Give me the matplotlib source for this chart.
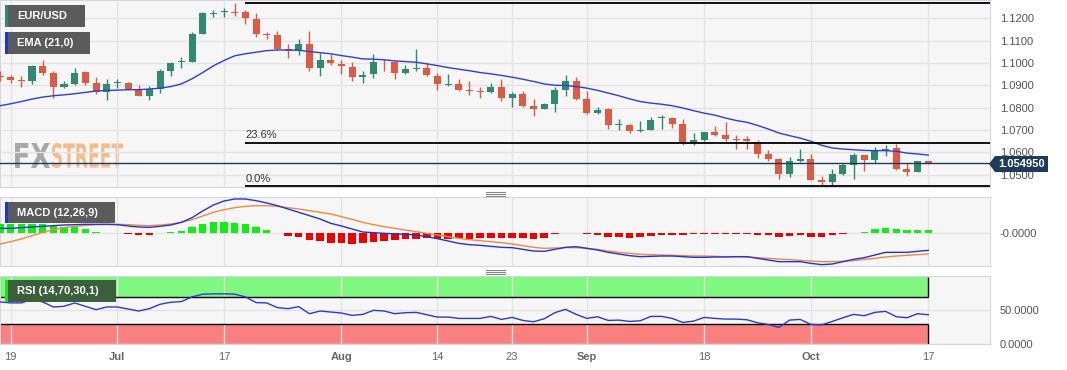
#Imports
import numpy as np
import pandas as pd
import matplotlib
matplotlib.use('Agg')
import matplotlib.pyplot as plt
from matplotlib.patches import Rectangle, Polygon, PathPatch
from matplotlib.textpath import TextPath
from matplotlib.font_manager import FontProperties
from matplotlib.transforms import Affine2D

plt.rcParams['font.family'] = ['Liberation Sans', 'DejaVu Sans']

#-------------------Data-------------------#
dates = pd.bdate_range('2023-06-16', '2023-10-17')

opens = [1.0942, 1.0939, 1.0923, 1.0917, 1.0984, 1.0954, 1.0894, 1.0906, 1.0959, 1.0912,
         1.0869, 1.0911, 1.0909, 1.0883, 1.0854, 1.0883, 1.0966, 1.1002, 1.1006, 1.1130,
         1.1219, 1.1227, 1.1230, 1.1227, 1.1197, 1.1130, 1.1123, 1.1063, 1.1055, 1.1084,
         1.0979, 1.1014, 1.0996, 1.0981, 1.0939, 1.0950, 1.1006, 1.1002, 1.0957, 1.0973,
         1.0976, 1.0942, 1.0900, 1.0905, 1.0880, 1.0872, 1.0871, 1.0891, 1.0845, 1.0860,
         1.0808, 1.0795, 1.0817, 1.0880, 1.0920, 1.0839, 1.0774, 1.0793, 1.0720, 1.0723,
         1.0693, 1.0701, 1.0753, 1.0753, 1.0726, 1.0641, 1.0653, 1.0689, 1.0675, 1.0660,
         1.0659, 1.0646, 1.0590, 1.0570, 1.0503, 1.0562, 1.0570, 1.0474, 1.0465, 1.0503,
         1.0544, 1.0586, 1.0567, 1.0607, 1.0619, 1.0526, 1.0510, 1.0559]
highs = [1.0962, 1.0947, 1.0942, 1.0991, 1.1011, 1.0962, 1.0920, 1.0976, 1.0966, 1.0939,
         1.0930, 1.0930, 1.0914, 1.0902, 1.0897, 1.0973, 1.1002, 1.1026, 1.1137, 1.1227,
         1.1237, 1.1245, 1.1270, 1.1237, 1.1225, 1.1140, 1.1145, 1.1084, 1.1106, 1.1145,
         1.1044, 1.1039, 1.1014, 1.1002, 1.0962, 1.1039, 1.1017, 1.1009, 1.0991, 1.1061,
         1.0999, 1.0957, 1.0951, 1.0929, 1.0920, 1.0890, 1.0912, 1.0927, 1.0869, 1.0872,
         1.0838, 1.0820, 1.0891, 1.0947, 1.0935, 1.0875, 1.0802, 1.0798, 1.0748, 1.0728,
         1.0742, 1.0757, 1.0768, 1.0757, 1.0748, 1.0686, 1.0692, 1.0716, 1.0734, 1.0678,
         1.0671, 1.0653, 1.0608, 1.0574, 1.0579, 1.0614, 1.0592, 1.0492, 1.0525, 1.0552,
         1.0596, 1.0589, 1.0622, 1.0634, 1.0638, 1.0552, 1.0559, 1.0561]
lows = [1.0917, 1.0909, 1.0891, 1.0906, 1.0947, 1.0842, 1.0887, 1.0902, 1.0902, 1.0860,
        1.0835, 1.0887, 1.0877, 1.0854, 1.0835, 1.0865, 1.0942, 1.0976, 1.1003, 1.1130,
        1.1204, 1.1207, 1.1212, 1.1175, 1.1115, 1.1108, 1.1058, 1.1021, 1.1036, 1.0966,
        1.0942, 1.0991, 1.0951, 1.0921, 1.0912, 1.0932, 1.0965, 1.0929, 1.0951, 1.0966,
        1.0942, 1.0877, 1.0897, 1.0872, 1.0857, 1.0845, 1.0865, 1.0830, 1.0802, 1.0802,
        1.0760, 1.0793, 1.0780, 1.0853, 1.0832, 1.0771, 1.0771, 1.0705, 1.0701, 1.0686,
        1.0690, 1.0698, 1.0704, 1.0708, 1.0631, 1.0631, 1.0652, 1.0671, 1.0649, 1.0614,
        1.0614, 1.0574, 1.0559, 1.0482, 1.0489, 1.0556, 1.0474, 1.0447, 1.0450, 1.0500,
        1.0480, 1.0514, 1.0552, 1.0581, 1.0522, 1.0492, 1.0510, 1.0547]
closes = [1.0935, 1.0924, 1.0920, 1.0984, 1.0957, 1.0891, 1.0905, 1.0957, 1.0912, 1.0869,
          1.0906, 1.0914, 1.0880, 1.0854, 1.0883, 1.0966, 1.0999, 1.1009, 1.1130, 1.1225,
          1.1225, 1.1230, 1.1222, 1.1200, 1.1128, 1.1124, 1.1063, 1.1055, 1.1084, 1.0976,
          1.1014, 1.0999, 1.0984, 1.0939, 1.0947, 1.1006, 1.1002, 1.0957, 1.0972, 1.0979,
          1.0947, 1.0906, 1.0905, 1.0880, 1.0875, 1.0868, 1.0891, 1.0845, 1.0860, 1.0808,
          1.0795, 1.0815, 1.0877, 1.0920, 1.0839, 1.0774, 1.0790, 1.0720, 1.0726, 1.0693,
          1.0698, 1.0745, 1.0757, 1.0728, 1.0641, 1.0653, 1.0689, 1.0678, 1.0660, 1.0653,
          1.0649, 1.0593, 1.0571, 1.0503, 1.0562, 1.0570, 1.0477, 1.0465, 1.0503, 1.0544,
          1.0586, 1.0564, 1.0607, 1.0616, 1.0526, 1.0510, 1.0559, 1.05495]

ema21 = [1.0808, 1.0817, 1.0827, 1.0838, 1.0847, 1.0853, 1.0857, 1.0862, 1.0868, 1.0874,
         1.0877, 1.0878, 1.0880, 1.0880, 1.0883, 1.0887, 1.0894, 1.0906, 1.0929, 1.0957,
         1.0987, 1.1011, 1.1032, 1.1041, 1.1048, 1.1055, 1.1058, 1.1058, 1.1057, 1.1051,
         1.1046, 1.1041, 1.1033, 1.1026, 1.1018, 1.1017, 1.1014, 1.1009, 1.1006, 1.1003,
         1.0996, 1.0988, 1.0979, 1.0972, 1.0965, 1.0957, 1.0951, 1.0944, 1.0936, 1.0927,
         1.0917, 1.0906, 1.0900, 1.0899, 1.0894, 1.0887, 1.0877, 1.0865, 1.0853, 1.0839,
         1.0827, 1.0820, 1.0815, 1.0808, 1.0798, 1.0786, 1.0775, 1.0766, 1.0753, 1.0742,
         1.0734, 1.0720, 1.0704, 1.0686, 1.0674, 1.0663, 1.0649, 1.0631, 1.0619, 1.0614,
         1.0611, 1.0608, 1.0607, 1.0607, 1.0604, 1.0596, 1.0592, 1.0587]

#MACD values in units of 1e-4
macd_line = [10.5, 10.5, 11.9, 13.3, 14.7, 16.1, 17.5, 18.2, 18.9, 18.9,
             18.9, 18.2, 15.4, 13.3, 12.6, 14.7, 17.5, 23.1, 32.9, 46.9,
             59.5, 67.9, 72.1, 72.1, 68.6, 63.7, 58.1, 51.1, 44.1, 37.1,
             30.1, 21.0, 15.4, 9.1, 2.8, 1.4, 0.0, -1.4, -2.1, -3.5,
             -7.0, -11.2, -16.1, -21.0, -23.8, -25.2, -27.3, -29.4, -30.1, -33.6,
             -37.1, -37.8, -33.6, -29.4, -28.0, -31.5, -35.0, -39.9, -43.4, -46.9,
             -49.0, -48.3, -47.6, -47.6, -49.0, -50.4, -50.4, -49.7, -49.7, -49.0,
             -49.0, -52.5, -56.0, -59.5, -59.5, -59.5, -63.0, -65.8, -64.4, -59.5,
             -54.6, -51.1, -45.5, -39.9, -39.9, -39.9, -37.8, -35.7]
signal_line = [-22.4, -17.5, -11.9, -4.9, 2.1, 7.7, 11.9, 14.7, 16.8, 18.2,
               18.9, 18.9, 18.2, 16.8, 16.1, 17.5, 19.6, 23.1, 28.7, 36.4,
               44.1, 49.7, 53.9, 56.7, 58.1, 58.1, 56.7, 53.9, 51.1, 47.6,
               44.1, 40.6, 35.0, 29.4, 23.1, 18.2, 14.0, 10.5, 7.0, 3.5,
               0.0, -3.5, -7.0, -10.5, -13.3, -15.4, -17.5, -19.6, -22.4, -25.9,
               -29.4, -31.5, -30.8, -30.1, -30.1, -31.5, -33.6, -37.1, -39.9, -42.0,
               -44.1, -44.8, -45.5, -46.2, -46.9, -47.6, -47.6, -48.3, -49.0, -49.0,
               -49.7, -51.1, -52.5, -53.9, -55.3, -56.7, -58.1, -59.5, -59.5, -58.8,
               -57.4, -54.6, -52.5, -49.7, -47.6, -46.2, -44.8, -43.4]
macd_hist = [19.6, 19.6, 19.6, 19.6, 19.6, 16.1, 12.6, 12.6, 8.4, 2.1,
             1.4, 0.7, -0.7, -3.5, -3.5, 0.3, 2.1, 4.9, 12.6, 19.6,
             24.5, 24.5, 21.0, 18.9, 12.6, 6.3, 0.7, -4.9, -7.0, -14.0,
             -16.8, -19.6, -21.0, -22.4, -21.0, -17.5, -15.4, -14.0, -12.6, -11.2,
             -10.5, -11.2, -11.2, -10.5, -11.2, -10.5, -10.5, -9.8, -10.5, -10.5,
             -11.2, -9.1, -2.1, 0.7, 0.7, -2.1, -4.2, -7.7, -8.4, -10.5,
             -7.0, -4.9, -2.8, -2.8, -3.5, -2.1, -2.1, -0.7, -0.7, -0.7,
             -2.1, -2.8, -3.5, -8.4, -5.6, -4.2, -7.0, -8.4, -4.2, -2.1,
             0.7, 2.8, 8.4, 11.9, 9.1, 6.3, 6.3, 6.3]

rsi = [62.5, 61, 61, 66, 62.5, 55, 56, 61, 56, 51,
       55, 55, 52, 49, 52.5, 59, 62, 63, 70, 74,
       74.5, 74.5, 74, 70, 61.5, 61, 54, 52.5, 55.5, 45,
       49, 47.5, 46, 42.5, 44, 50, 49, 45, 46.5, 47,
       43.5, 40, 40, 38, 38, 38, 41, 36.5, 39.5, 35,
       33, 37.5, 46.5, 51.5, 44, 38, 40.5, 35, 35.5, 33.5,
       34.5, 41, 41, 38, 32, 34, 39.5, 38, 37, 37,
       36, 31.5, 29, 24.5, 35.5, 36.5, 29, 28.5, 33.5, 39,
       44, 42, 47, 48.5, 40.5, 39, 45, 43.5]

tick_dates = ['2023-06-19', '2023-07-03', '2023-07-17', '2023-08-01', '2023-08-14',
              '2023-08-23', '2023-09-01', '2023-09-18', '2023-10-02', '2023-10-17']
tick_labels = ['19', 'Jul', '17', 'Aug', '14', '23', 'Sep', '18', 'Oct', '17']
month_labels = ['Jul', 'Aug', 'Sep', 'Oct']
price_ticks = [1.05, 1.06, 1.07, 1.08, 1.09, 1.10, 1.11, 1.12]
last_price = 1.054950

#-------------------Setup-------------------#
W, H = 1067, 370
green = '#2f8a6f'
red = '#dd5a44'
navy = '#1f3a5c'
grid_c = '#e3e3e3'
spine_c = '#d3d6e0'

o = np.array(opens)
h = np.array(highs)
l = np.array(lows)
c = np.array(closes)
x = np.arange(len(dates)) - 1
tick_pos = [dates.get_loc(pd.Timestamp(d)) - 1 for d in tick_dates]
x_lo, x_hi = -1, 990 / 10.67 - 1

fig = plt.figure(figsize=(W / 100, H / 100), dpi=100)
fig.patch.set_facecolor('white')

def px_axes(top, bottom):
    return fig.add_axes([0, 1 - bottom / H, 990 / W, (bottom - top) / H])

ax = px_axes(0, 187)
ax_m = px_axes(197, 266)
ax_r = px_axes(276, 344)

for a in [ax, ax_m, ax_r]:
    a.set_facecolor('#f6f6f6')
    for s in a.spines.values():
        s.set_color(spine_c)
    a.set_xticks(tick_pos)
    a.grid(color=grid_c, lw=1)
    a.yaxis.tick_right()
    a.tick_params(axis='y', length=0, pad=7, labelsize=8, labelcolor='#555555')
    a.tick_params(axis='x', length=0)
    a.set_xlim(x_lo, x_hi)

#-------------------Price panel-------------------#
colors = np.where(c >= o, green, red)
ax.vlines(x, l, h, colors=colors, lw=1, zorder=3)
body_h = np.maximum(np.abs(c - o), 0.0004)
body_b = (o + c) / 2 - body_h / 2
ax.bar(x, body_h, width=0.66, bottom=body_b, color=colors, zorder=4)
ax.plot(x, ema21, color='#2b3fe0', lw=1, zorder=5)

#Fibonacci levels
fib0 = l.min()
fib100 = h.max()
fib236 = fib0 + 0.236 * (fib100 - fib0)
ax.hlines([fib100, fib236, fib0], 22, x_hi, color='black', lw=1.3, zorder=5)
ax.annotate('23.6%', (22, fib236), xytext=(0, 2), textcoords='offset points',
            fontsize=8, color='#333333', va='bottom', ha='left')
ax.annotate('0.0%', (22, fib0), xytext=(0, 2), textcoords='offset points',
            fontsize=8, color='#333333', va='bottom', ha='left')

ax.axhline(last_price, color=navy, lw=1, zorder=6)

ax.set_yticks(price_ticks)
ax.set_yticklabels(['{:.4f}'.format(p) for p in price_ticks])
ax.tick_params(axis='x', labelbottom=False)
ax.set_ylim(1.0444, 1.1282)

#FXSTREET watermark
fp = FontProperties(family='DejaVu Sans', weight='bold')
def stamp(txt, x0, x1, y0, y1, col):
    tp = TextPath((0, 0), txt, size=1, prop=fp)
    ext = tp.get_extents()
    tr = (Affine2D().translate(-ext.x0, -ext.y0)
          .scale((x1 - x0) / ext.width, (y1 - y0) / ext.height)
          .translate(x0, H - y1).scale(1 / W, 1 / H) + fig.transFigure)
    ax.add_patch(PathPatch(tp, transform=tr, fc=col, ec='none', alpha=0.85, zorder=1))
stamp('FX', 15, 50, 143, 168, '#9a9a9a')
stamp('STREET', 52, 123, 143, 168, '#efb47c')
ax.set_xlim(x_lo, x_hi)
ax.set_ylim(1.0444, 1.1282)

#-------------------MACD panel-------------------#
mh = np.array(macd_hist) * 1e-4
ax_m.bar(x, mh, width=0.7, color=np.where(mh >= 0, '#10f010', '#f00000'), zorder=3)
ax_m.plot(x, np.array(signal_line) * 1e-4, color='#f08a3c', lw=1, zorder=4)
ax_m.plot(x, np.array(macd_line) * 1e-4, color='#2233dd', lw=1, zorder=5)
ax_m.set_yticks([0])
ax_m.set_yticklabels(['-0.0000'])
ax_m.tick_params(axis='x', labelbottom=False)
ax_m.set_ylim(-0.00686, 0.00763)

#-------------------RSI panel-------------------#
ax_r.add_patch(Rectangle((-1, 70), 87, 30, fc='#7ef87e', ec='none', zorder=1))
ax_r.add_patch(Rectangle((-1, 0), 87, 30, fc='#fa7f7f', ec='none', zorder=1))
ax_r.hlines([70, 30], -1, 86, color='black', lw=1, zorder=2)
ax_r.vlines([86, 86], [70, 0], [100, 30], color='black', lw=1, zorder=2)
ax_r.vlines([-1, -1], [70, 0], [100, 30], color='black', lw=1.5, zorder=2)
ax_r.plot(x, rsi, color='#2a3ad8', lw=1, zorder=4)
ax_r.set_yticks([0, 50])
ax_r.set_yticklabels(['0.0000', '50.0000'])
ax_r.set_ylim(0, 101)
ax_r.set_xticklabels(tick_labels)
ax_r.tick_params(axis='x', pad=6, labelsize=8, labelcolor='#666666')
for t in ax_r.get_xticklabels():
    if t.get_text() in month_labels:
        t.set_fontweight('bold')

#-------------------Overlays-------------------#
def fig_rect(x0, y0, x1, y1, col, z=5):
    fig.add_artist(Rectangle((x0 / W, 1 - y1 / H), (x1 - x0) / W, (y1 - y0) / H,
                             transform=fig.transFigure, fc=col, ec='none', zorder=z))

def label_box(txt, x0, y0, x1, y1, col, stripe):
    fig_rect(x0, y0, x1, y1, col)
    fig_rect(x0, y0, x0 + 2.5, y1, stripe, z=6)
    fig.text((x0 + 12) / W, 1 - (y0 + y1) / 2 / H, txt, color='white', fontsize=8,
             fontweight='bold', va='center', ha='left', zorder=7)

label_box('EUR/USD', 5, 5, 85, 27, '#5b5b5b', green)
label_box('EMA (21,0)', 5, 32, 90, 54, '#5b5b5b', '#1a35e0')
label_box('MACD (12,26,9)', 5, 202, 115, 223, '#5b5b5b', '#1a35e0')
label_box('RSI (14,70,30,1)', 5, 280, 116, 302, '#3a5f3a', '#22dd22')

#Last price tag
yp = 164
tag = [(989, yp), (995, yp - 8), (1048, yp - 8), (1048, yp + 8), (995, yp + 8)]
fig.add_artist(Polygon([(px / W, 1 - py / H) for px, py in tag], closed=True,
                       transform=fig.transFigure, fc=navy, ec='none', zorder=5))
fig.text(1021.5 / W, 1 - yp / H, '{:.6f}'.format(last_price), color='white', fontsize=8,
         fontweight='bold', ha='center', va='center', zorder=6)

#Panel resize handles
for yh in [191.5, 269.5]:
    for k in range(3):
        yy = 1 - (yh + 2 * k) / H
        fig.add_artist(plt.Line2D([486 / W, 505 / W], [yy, yy], transform=fig.transFigure,
                                  color='#888888', lw=0.8))

fig.savefig('out.png', dpi=100, facecolor='white')
